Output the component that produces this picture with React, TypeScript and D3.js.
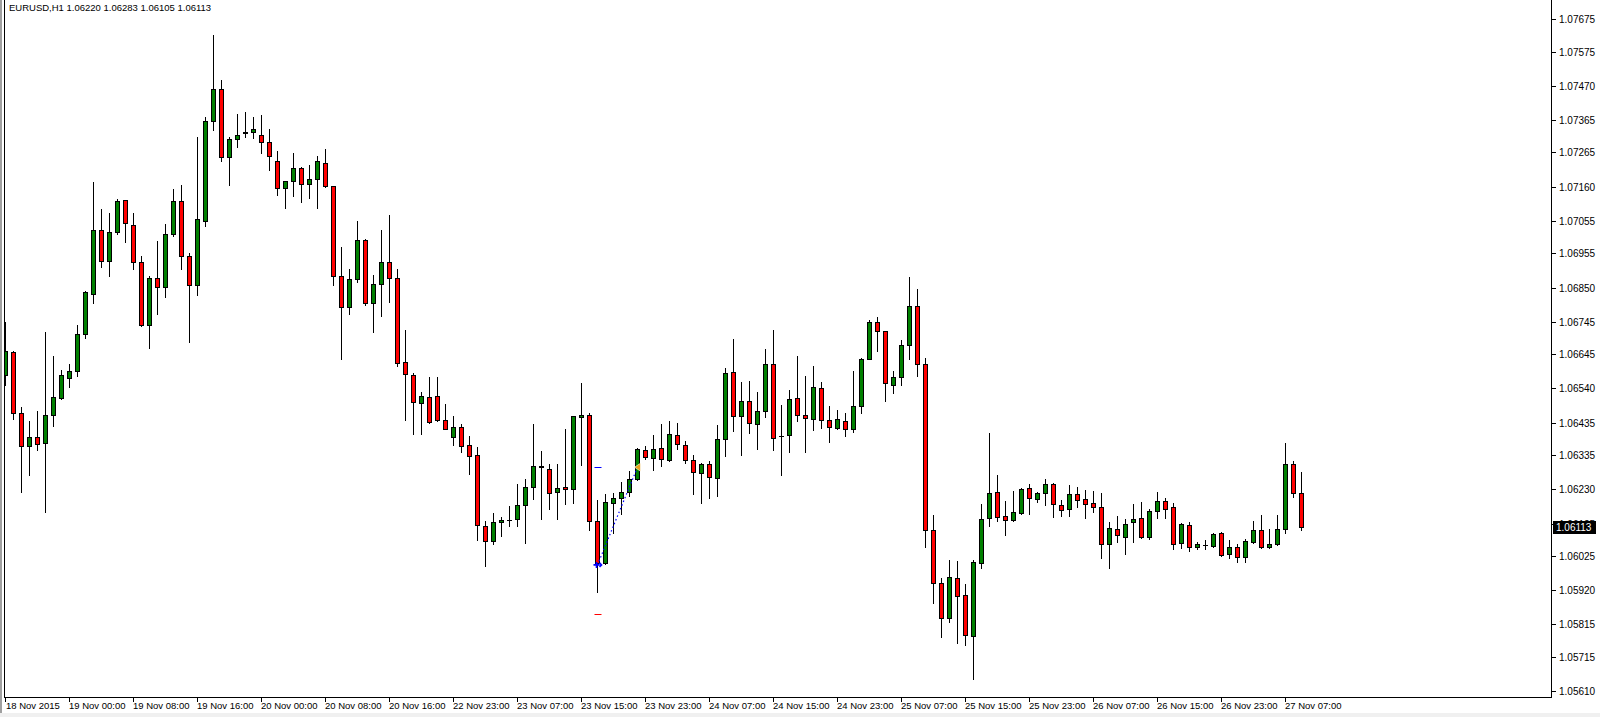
import React from 'react';
import * as d3 from 'd3';

// Prices are in points (1 point = 0.00001)
const POINT = 0.00001;
const titleText = 'EURUSD,H1  1.06220 1.06283 1.06105 1.06113';
const lastPrice = '1.06113';

const opens = [
  106580,106651,106464,106362,106390,106374,106460,106511,106571,106595,106706,106829,107026,106933,107022,107118,107041,106927,106734,106878,
  106853,107013,107115,106946,106857,107053,107363,107459,107250,107305,107324,107327,107320,107296,107238,107155,107176,107216,107167,107185,
  107234,107161,106884,106789,106875,106995,106804,106860,106927,106878,106620,106580,106494,106513,106516,106442,106390,106423,106365,106337,
  106119,106070,106129,106135,106138,106181,106236,106298,106294,106221,106236,106230,106451,106457,106132,106003,106187,106205,106221,106261,
  106350,106325,106356,106319,106396,106365,106319,106279,106307,106264,106384,106592,106454,106500,106430,106470,106614,106395,106396,106510,
  106457,106445,106540,106442,106420,106439,106417,106485,106632,106743,106715,106552,106574,106672,106792,106614,106104,105941,105834,105957,
  105907,105781,106003,106141,106221,106147,106135,106156,106233,106199,106218,106248,106181,106171,106215,106199,106187,106175,106061,106107,
  106085,106129,106141,106085,106165,106193,106175,106064,106122,106052,106058,106055,106095,106030,106052,106021,106067,106104,106052,106061,
  106107,106307,106220
];
const highs = [
  106744,106655,106482,106440,106470,106712,106639,106596,106615,106735,106838,107174,107091,107080,107122,107120,107078,106946,106884,106992,
  107044,107152,107164,106955,107311,107373,107625,107489,107311,107382,107388,107373,107379,107337,107271,107178,107262,107219,107228,107253,
  107277,107163,106976,106906,107053,106998,106890,107026,107072,106906,106721,106589,106528,106574,106574,106491,106454,106430,106393,106359,
  106132,106156,106144,106178,106248,106261,106430,106347,106307,106307,106414,106456,106556,106464,106196,106215,106218,106254,106285,106356,
  106362,106396,106430,106439,106433,106380,106337,106310,106316,106427,106602,106691,106559,106562,106528,106660,106721,106488,106534,106639,
  106577,106608,106559,106485,106473,106464,106595,106635,106749,106761,106718,106595,106688,106881,106847,106635,106150,105957,106012,106009,
  105938,106012,106184,106402,106273,106193,106224,106233,106248,106221,106261,106251,106196,106242,106236,106227,106224,106218,106129,106147,
  106138,106184,106190,106171,106221,106205,106187,106127,106129,106067,106074,106095,106098,106074,106061,106079,106132,106150,106107,106150,
  106371,106316,106283
];
const lows = [
  106552,106445,106223,106273,106350,106161,106425,106508,106545,106579,106696,106803,106914,106886,107015,106991,106906,106731,106663,106770,
  106820,107007,106906,106682,106826,107038,107333,107238,107164,107281,107314,107308,107262,107212,107135,107095,107132,107113,107126,107095,
  107158,106857,106631,106770,106866,106795,106712,106764,106807,106608,106444,106401,106401,106435,106441,106415,106367,106345,106278,106075,
  105995,106063,106087,106119,106119,106066,106201,106140,106170,106140,106186,106189,106304,106104,105914,106000,106095,106153,106211,106258,
  106323,106288,106301,106316,106353,106310,106215,106187,106202,106211,106331,106408,106337,106402,106355,106451,106350,106273,106344,106439,
  106344,106411,106420,106377,106417,106393,106405,106466,106629,106654,106503,106525,106552,106629,106577,106052,105880,105777,105823,105757,
  105751,105646,105987,106119,106132,106089,106132,106153,106153,106190,106181,106144,106147,106147,106175,106141,106162,106018,105987,106067,
  106033,106067,106082,106079,106141,106141,106046,106049,106040,106046,106046,106052,106024,106018,106006,106006,106064,106049,106050,106058,
  106095,106208,106105
];
const closes = [
  106654,106464,106362,106390,106368,106457,106513,106580,106595,106706,106835,107026,106933,107022,107115,107047,106930,106734,106878,106853,
  107013,107115,106946,106857,107062,107363,107459,107250,107305,107320,107327,107336,107296,107253,107155,107176,107216,107167,107185,107238,
  107161,106887,106789,106875,106995,106804,106860,106927,106878,106617,106583,106497,106516,106438,106444,106417,106423,106362,106334,106122,
  106070,106129,106135,106135,106181,106236,106301,106301,106218,106233,106230,106454,106457,106132,106003,106190,106205,106221,106261,106353,
  106328,106353,106323,106399,106368,106319,106282,106307,106267,106384,106586,106454,106500,106433,106470,106614,106387,106395,106507,106457,
  106448,106543,106442,106423,106445,106417,106485,106632,106743,106718,106556,106574,106672,106792,106614,106104,105941,105834,105960,105901,
  105784,106006,106138,106218,106144,106135,106159,106230,106202,106218,106248,106184,106168,106215,106196,106184,106175,106061,106110,106089,
  106125,106138,106085,106165,106193,106171,106061,106125,106052,106061,106058,106092,106027,106052,106021,106070,106104,106052,106061,106107,
  106307,106218,106113
];

const priceTicks = ['1.07675','1.07575','1.07470','1.07365','1.07265','1.07160','1.07055','1.06955','1.06850','1.06745',
  '1.06645','1.06540','1.06435','1.06335','1.06230','1.06125','1.06025','1.05920','1.05815','1.05715','1.05610'];

// one label every 8 hourly bars, starting at the first bar
const timeLabels = ['18 Nov 2015','19 Nov 00:00','19 Nov 08:00','19 Nov 16:00','20 Nov 00:00','20 Nov 08:00','20 Nov 16:00',
  '22 Nov 23:00','23 Nov 07:00','23 Nov 15:00','23 Nov 23:00','24 Nov 07:00','24 Nov 15:00','24 Nov 23:00','25 Nov 07:00',
  '25 Nov 15:00','25 Nov 23:00','26 Nov 07:00','26 Nov 15:00','26 Nov 23:00','27 Nov 07:00'];
const BARS_PER_LABEL = 8;

// one buy trade drawn on the chart
const tradeOpenBar = 74;
const tradeOpenPrice = 1.05998;
const tradeCloseBar = 79;
const tradeClosePrice = 1.06298;
const tradeStopLoss = 1.05846;
const tradeTakeProfit = 1.06298;

const W = 1600, H = 717;
const PLOT_LEFT = 4, PLOT_RIGHT = 1551, PLOT_BOTTOM = 697;
const GREEN = '#008000', RED = '#ff0000';
const FONT = '"Liberation Sans", Arial, sans-serif';

export default function App() {
  const x = d3.scaleLinear().domain([0, 193]).range([5, 5 + 8 * 193]);
  const y = d3.scaleLinear().domain([1.07675, 1.05610]).range([19.0, 691.2]);
  const col = (i: number) => Math.round(x(i));
  const py = (p: number) => Math.round(y(p));

  const candles = opens.map((o, i) => {
    const h = highs[i], l = lows[i], c = closes[i];
    const cx = col(i) + 0.5;
    const yH = py(h * POINT), yL = py(l * POINT);
    const yO = py(o * POINT), yC = py(c * POINT);
    const top = Math.min(yO, yC), bot = Math.max(yO, yC);
    const fill = c > o ? GREEN : RED;
    return (
      <g key={i}>
        <line x1={cx} x2={cx} y1={yH} y2={yL + 1} stroke="#000" strokeWidth={1} />
        {bot - top < 1 ? (
          <line x1={cx - 2.5} x2={cx + 2.5} y1={top + 0.5} y2={top + 0.5} stroke="#000" strokeWidth={1} />
        ) : (
          <rect x={cx - 2} y={top + 0.5} width={4} height={bot - top} fill={fill} stroke="#000" strokeWidth={1} />
        )}
      </g>
    );
  });

  const lastY = y(parseFloat(lastPrice));
  const oX = col(tradeOpenBar) + 0.5;
  const oY = y(tradeOpenPrice);
  const cX = col(tradeCloseBar) + 0.5;
  const cY = y(tradeClosePrice);

  return (
    <div style={{ position: 'absolute', left: 0, top: 0, width: W, height: H, background: '#fff' }}>
      <svg width={W} height={H} style={{ display: 'block' }} shapeRendering="crispEdges">
        <defs>
          <clipPath id="plotClip">
            <rect x={PLOT_LEFT + 1} y={1} width={PLOT_RIGHT - PLOT_LEFT - 1} height={PLOT_BOTTOM - 1} />
          </clipPath>
        </defs>
        <rect x={0} y={0} width={W} height={H} fill="#fff" />
        {/* window edge */}
        <rect x={0} y={0} width={2} height={H} fill="#a0a0a0" />
        <rect x={0} y={713} width={W} height={4} fill="#f0f0f0" />

        <g clipPath="url(#plotClip)">
          {candles}
          {/* trade levels */}
          <g shapeRendering="auto">
            <line x1={oX - 3} x2={oX + 4} y1={Math.round(y(tradeTakeProfit)) + 0.5} y2={Math.round(y(tradeTakeProfit)) + 0.5} stroke="#0000ff" strokeWidth={1} />
            <line x1={oX - 3} x2={oX + 4} y1={Math.round(y(tradeStopLoss)) + 0.5} y2={Math.round(y(tradeStopLoss)) + 0.5} stroke="#ff0000" strokeWidth={1} />
            <line x1={oX} y1={oY} x2={cX} y2={cY} stroke="#0000ff" strokeWidth={1.2} strokeDasharray="1.5 2.5" />
            <path d={`M${oX - 4},${oY} L${oX + 2},${oY} M${oX - 1},${oY - 3} L${oX - 1},${oY + 3} M${oX + 2},${oY - 2} L${oX + 4},${oY} L${oX + 2},${oY + 2}`} stroke="#0000ff" strokeWidth={1.6} fill="none" />
            <path d={`M${cX - 3},${cY} L${cX + 3},${cY - 4} L${cX + 3},${cY + 4} Z`} fill="#e8a317" stroke="#fff" strokeWidth={0.6} />
          </g>
        </g>

        {/* frame */}
        <line x1={PLOT_LEFT + 0.5} x2={PLOT_LEFT + 0.5} y1={0} y2={PLOT_BOTTOM + 1} stroke="#000" />
        <line x1={PLOT_RIGHT + 0.5} x2={PLOT_RIGHT + 0.5} y1={0} y2={PLOT_BOTTOM + 1} stroke="#000" />
        <line x1={PLOT_LEFT} x2={PLOT_RIGHT + 1} y1={PLOT_BOTTOM + 0.5} y2={PLOT_BOTTOM + 0.5} stroke="#000" />

        {/* title */}
        <text x={9} y={10.5} fontFamily={FONT} fontSize={9.5} fill="#000">{titleText}</text>

        {/* price axis */}
        {priceTicks.map((t) => {
          const ty = Math.round(y(parseFloat(t))) + 0.5;
          return (
            <g key={t}>
              <line x1={PLOT_RIGHT + 1} x2={PLOT_RIGHT + 5} y1={ty} y2={ty} stroke="#000" />
              <text x={1559} y={ty + 3.5} fontFamily={FONT} fontSize={10} fill="#000">{t}</text>
            </g>
          );
        })}
        <rect x={1553} y={Math.round(lastY) - 6} width={43} height={13} fill="#000" />
        <text x={1556} y={Math.round(lastY) + 4} fontFamily={FONT} fontSize={10} fill="#fff">{lastPrice}</text>

        {/* time axis */}
        {timeLabels.map((t, k) => {
          const bx = col(k * BARS_PER_LABEL);
          return (
            <g key={t}>
              <line x1={bx + 0.5} x2={bx + 0.5} y1={PLOT_BOTTOM + 1} y2={PLOT_BOTTOM + 5} stroke="#000" />
              <text x={k === 0 ? 6 : bx} y={708.5} fontFamily={FONT} fontSize={9.5} fill="#000">{t}</text>
            </g>
          );
        })}
      </svg>
    </div>
  );
}
